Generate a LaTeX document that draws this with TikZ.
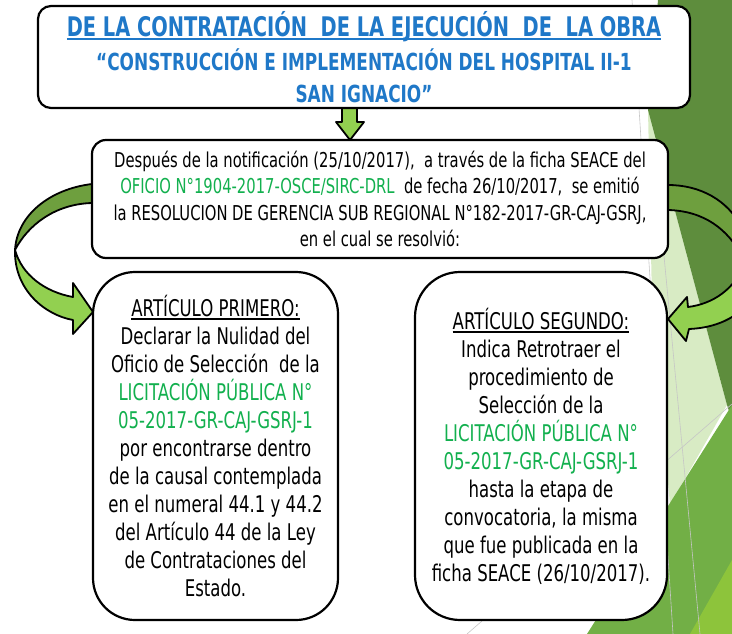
\documentclass[tikz,border=0pt]{standalone}
\usepackage{fontspec}
\setmainfont{DejaVu Sans}[FakeStretch=0.72]
\definecolor{ttlblue}{HTML}{1F78C8}
\definecolor{txtgreen}{HTML}{12B04E}
\definecolor{arrdark}{HTML}{6E9F3E}
\definecolor{arrlight}{HTML}{92D050}
\definecolor{bgdark}{HTML}{5E8D3D}
\definecolor{bgpale}{HTML}{D8EBC4}
\definecolor{bgmid}{HTML}{72AF46}
\definecolor{bgyel}{HTML}{8DC43B}
\newcommand{\myuline}[3]{\setbox0\hbox{#3}\rlap{\copy0}\rule[#1]{\wd0}{#2}}
\tikzset{
  box/.style={draw=black, line width=2.2pt, fill=white, inner sep=0pt, align=center},
  blockarrow/.style={draw=black, line width=1.8pt, line join=round},
  bgline/.style={draw=gray!45, line width=0.6pt}
}
\begin{document}
\begin{tikzpicture}[x=1pt,y=-1pt]
\useasboundingbox (0,0) rectangle (732,634);
\begin{scope}
\clip (0,0) rectangle (732,634);
% background decoration
\fill[bgpale] (648,110) -- (727,405) -- (670,505) -- (652,300) -- cycle;
\fill[bgdark] (658,0) -- (732,0) -- (732,420) -- (727,405) -- (648,110) -- cycle;
\fill[bgmid] (587,634) -- (732,405) -- (732,634) -- cycle;
\fill[bgyel] (690,634) -- (732,560) -- (732,634) -- cycle;
\draw[bgline] (632,0) -- (673,634);
\draw[bgline] (660,214) -- (700,634);
\draw[bgline] (467,634) -- (732,404);
% left curved arrow
\filldraw[blockarrow, fill=arrdark] (100,184) -- (92,184) .. controls (50,189) and (17,215) .. (15,250)
   .. controls (28,225) and (55,204) .. (92,203) -- (100,203) -- cycle;
\filldraw[blockarrow, fill=arrlight] (15,250) .. controls (14,290) and (45,315) .. (73,320)
   -- (73,334) -- (93,312) -- (73,283) -- (73,297)
   .. controls (45,292) and (22,275) .. (15,250) -- cycle;
% right curved arrow
\filldraw[blockarrow, fill=arrdark] (660,185) -- (668,185) .. controls (700,185) and (728,200) .. (742,228)
   -- (742,256) .. controls (728,230) and (705,211) .. (668,210) -- (660,210) -- cycle;
\filldraw[blockarrow, fill=arrlight] (745,262) .. controls (735,290) and (712,304) .. (688,307)
   -- (687,297) -- (668,319) -- (686,341) -- (689,329)
   .. controls (715,328) and (738,318) .. (750,300) -- cycle;
\end{scope}
% down arrow
\filldraw[blockarrow, fill=arrlight] (342,104) -- (357,104) -- (357,122) -- (364,122) -- (350,140)
   -- (336,122) -- (342,122) -- cycle;
% boxes
\node[box, rounded corners=13pt, minimum width=652pt, minimum height=102pt,
      text=ttlblue, font=\bfseries\fontsize{23.5}{32}\selectfont] (top) at (364,57)
 {{\fontsize{27}{33}\selectfont\myuline{-4pt}{2.5pt}{DE LA CONTRATACIÓN\ \ DE LA EJECUCIÓN\ \ DE\ \ LA OBRA}}\\[2pt]
  “CONSTRUCCIÓN E IMPLEMENTACIÓN DEL HOSPITAL II-1\\
  SAN IGNACIO”};
\node[box, rounded corners=14pt, minimum width=576pt, minimum height=118pt,
      font=\fontsize{20.5}{26.5}\selectfont] (mid) at (380,199)
 {Después de la notificación (25/10/2017),\ \ a través de la ficha SEACE del\\
  {\color{txtgreen}OFICIO N°1904-2017-OSCE/SIRC-DRL}\ \ de fecha 26/10/2017,\ \ se emitió\\
  la RESOLUCION DE GERENCIA SUB REGIONAL N°182-2017-GR-CAJ-GSRJ,\\
  en el cual se resolvió:};
\node[box, rounded corners=42pt, minimum width=245pt, minimum height=348pt,
      font=\fontsize{23}{28}\selectfont] (left) at (215.5,446)
 {\myuline{-3.5pt}{1.6pt}{ARTÍCULO PRIMERO:}\\
  Declarar la Nulidad del\\
  Oficio de Selección\ \ de la\\
  {\color{txtgreen}LICITACIÓN PÚBLICA N°}\\
  {\color{txtgreen}05-2017-GR-CAJ-GSRJ-1}\\
  por encontrarse dentro\\
  de la causal contemplada\\
  en el numeral 44.1 y 44.2\\
  del Artículo 44 de la Ley\\
  de Contrataciones del\\
  Estado.};
\node[box, rounded corners=45pt, minimum width=252pt, minimum height=348pt,
      font=\fontsize{23}{28}\selectfont] (right) at (541,446)
 {\myuline{-3.5pt}{1.6pt}{ARTÍCULO SEGUNDO:}\\
  Indica Retrotraer el\\
  procedimiento de\\
  Selección de la\\
  {\color{txtgreen}LICITACIÓN PÚBLICA N°}\\
  {\color{txtgreen}05-2017-GR-CAJ-GSRJ-1}\\
  hasta la etapa de\\
  convocatoria, la misma\\
  que fue publicada en la\\
  ficha SEACE (26/10/2017).};
\end{tikzpicture}
\end{document}
